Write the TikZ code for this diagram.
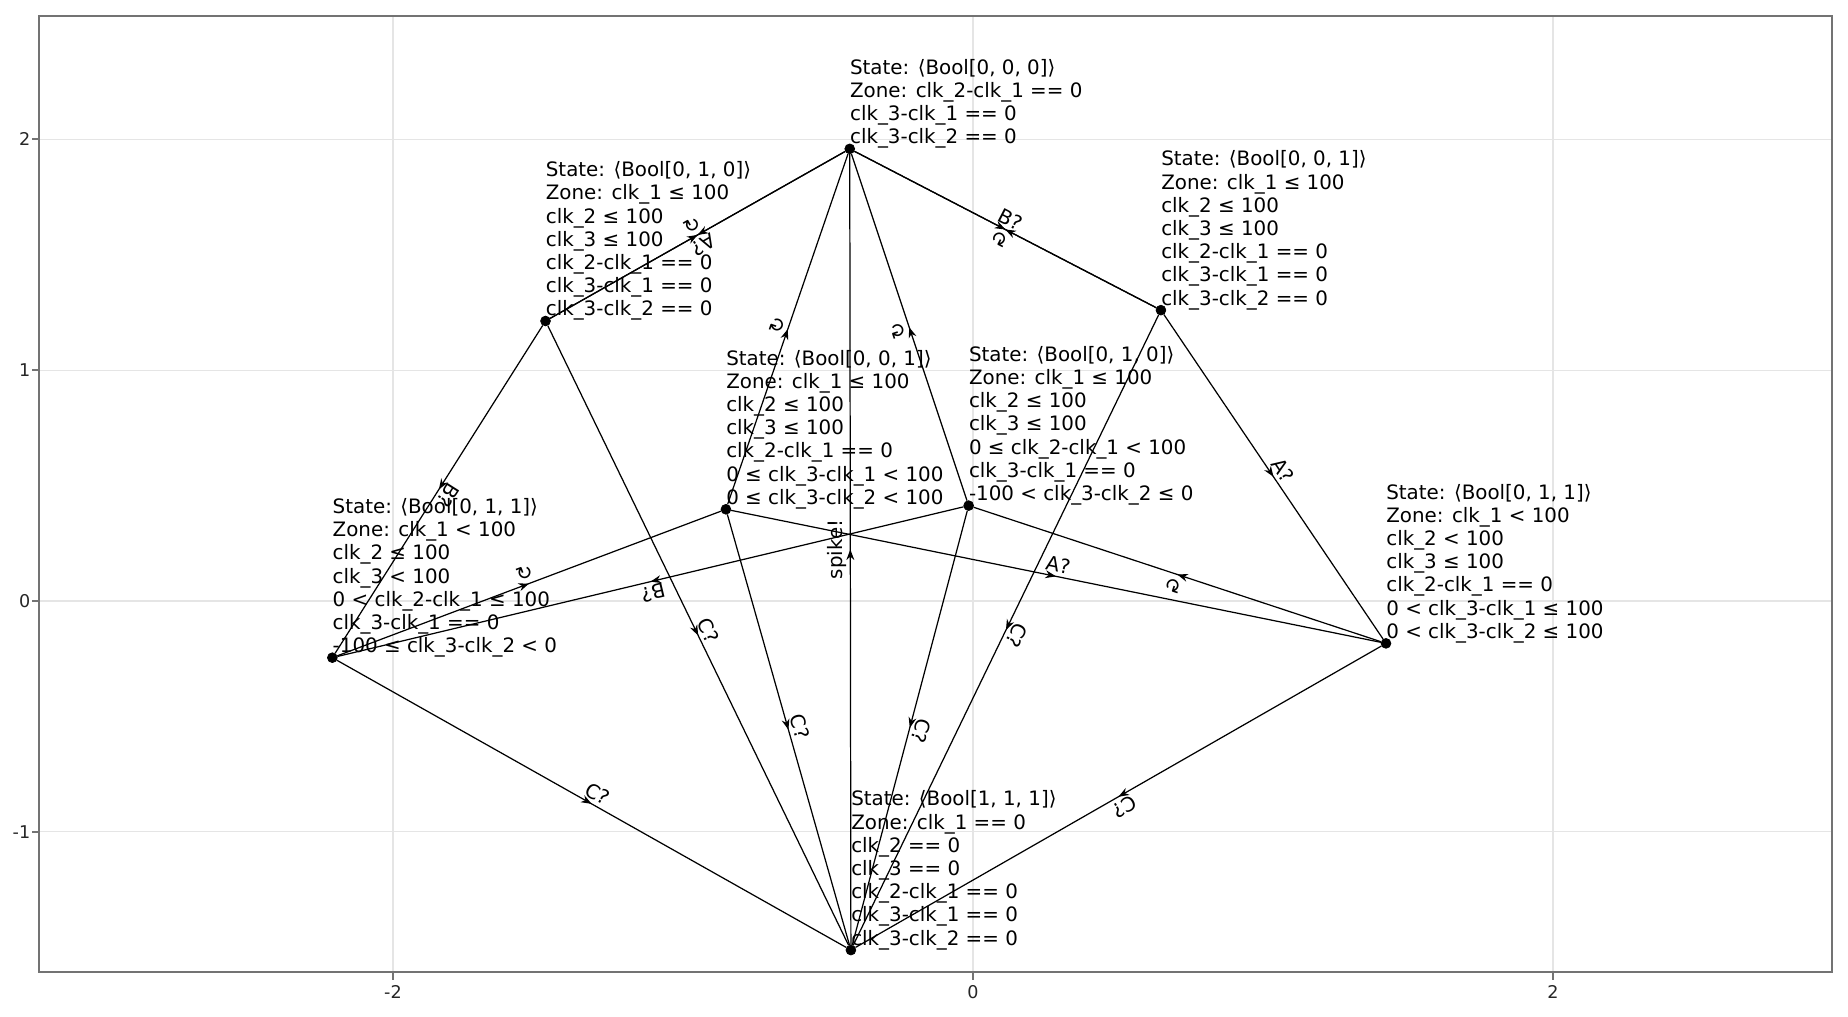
\documentclass[tikz,border=0pt]{standalone}
\usepackage{fontspec}
\setmainfont{DejaVu Sans}
\usetikzlibrary{arrows.meta,decorations.markings}
\begin{document}
\begin{tikzpicture}[x=5.8cm, y=4.615cm,
    state/.style={draw, circle, fill=black, inner sep=0pt, minimum size=5.6pt},
    zone/.style={anchor=south west, inner sep=0pt, align=left, font=\fontsize{11.3}{13.2}\selectfont},
    trans/.style={line width=0.7pt, postaction={decorate, decoration={markings, mark=at position 0.5 with {\arrow{Stealth[length=6pt, width=4.5pt]}}}}},
    act/.style={anchor=south, sloped, allow upside down, inner sep=2pt, font=\fontsize{11.3}{13.2}\selectfont},
    grid line/.style={black!10, line width=0.7pt},
    axis frame/.style={black!55, line width=1.1pt},
    ticklabel/.style={inner sep=0pt, text=black!85, font=\fontsize{10}{12}\selectfont}]
    \useasboundingbox (-3.355,-1.799) rectangle (3.017,2.604);

    \foreach \gx in {-2,0,2} \draw[grid line] (\gx,-1.610) -- (\gx,2.534);
    \foreach \gy in {-1,0,1,2} \draw[grid line] (-3.220,\gy) -- (2.962,\gy);
    \draw[axis frame] (-3.220,-1.610) rectangle (2.962,2.534);
    \foreach \gx/\nm in {-2/a,0/b,2/c} {
        \draw[axis frame] (\gx,-1.610) -- ++(0,-0.15cm);
        \node[ticklabel, anchor=north] (xt\nm) at ([yshift=-0.26cm]\gx,-1.610) {\gx};
    }
    \foreach \gy/\nm in {-1/a,0/b,1/c,2/d} {
        \draw[axis frame] (-3.220,\gy) -- ++(-0.15cm,0);
        \node[ticklabel, anchor=east] (yt\nm) at ([xshift=-0.172cm]-3.220,\gy) {\gy};
    }

    \node[state] (s000) at (-0.425, 1.959) {};
    \node[state] (s010) at (-1.474, 1.213) {};
    \node[state] (s001) at (0.648, 1.260) {};
    \node[state] (s001m) at (-0.852, 0.397) {};
    \node[state] (s010m) at (-0.015, 0.413) {};
    \node[state] (s011) at (-2.209, -0.246) {};
    \node[state] (s011m) at (1.424, -0.184) {};
    \node[state] (s111) at (-0.421, -1.513) {};

    \node[zone] (l000) at (s000) {State: ⟨Bool[0, 0, 0]⟩\\Zone: clk\_2-clk\_1 == 0\\clk\_3-clk\_1 == 0\\clk\_3-clk\_2 == 0};
    \node[zone] (l010) at (s010) {State: ⟨Bool[0, 1, 0]⟩\\Zone: clk\_1 ≤ 100\\clk\_2 ≤ 100\\clk\_3 ≤ 100\\clk\_2-clk\_1 == 0\\clk\_3-clk\_1 == 0\\clk\_3-clk\_2 == 0};
    \node[zone] (l001) at (s001) {State: ⟨Bool[0, 0, 1]⟩\\Zone: clk\_1 ≤ 100\\clk\_2 ≤ 100\\clk\_3 ≤ 100\\clk\_2-clk\_1 == 0\\clk\_3-clk\_1 == 0\\clk\_3-clk\_2 == 0};
    \node[zone] (l001m) at (s001m) {State: ⟨Bool[0, 0, 1]⟩\\Zone: clk\_1 ≤ 100\\clk\_2 ≤ 100\\clk\_3 ≤ 100\\clk\_2-clk\_1 == 0\\0 ≤ clk\_3-clk\_1 < 100\\0 ≤ clk\_3-clk\_2 < 100};
    \node[zone] (l010m) at (s010m) {State: ⟨Bool[0, 1, 0]⟩\\Zone: clk\_1 ≤ 100\\clk\_2 ≤ 100\\clk\_3 ≤ 100\\0 ≤ clk\_2-clk\_1 < 100\\clk\_3-clk\_1 == 0\\-100 < clk\_3-clk\_2 ≤ 0};
    \node[zone] (l011) at (s011) {State: ⟨Bool[0, 1, 1]⟩\\Zone: clk\_1 < 100\\clk\_2 ≤ 100\\clk\_3 < 100\\0 < clk\_2-clk\_1 ≤ 100\\clk\_3-clk\_1 == 0\\-100 ≤ clk\_3-clk\_2 < 0};
    \node[zone] (l011m) at (s011m) {State: ⟨Bool[0, 1, 1]⟩\\Zone: clk\_1 < 100\\clk\_2 < 100\\clk\_3 ≤ 100\\clk\_2-clk\_1 == 0\\0 < clk\_3-clk\_1 ≤ 100\\0 < clk\_3-clk\_2 ≤ 100};
    \node[zone] (l111) at (s111) {State: ⟨Bool[1, 1, 1]⟩\\Zone: clk\_1 == 0\\clk\_2 == 0\\clk\_3 == 0\\clk\_2-clk\_1 == 0\\clk\_3-clk\_1 == 0\\clk\_3-clk\_2 == 0};

    \draw [trans] (s000) -- node[act] {A?} (s010);
    \draw [trans] (s010) -- node[act] {↻} (s000);
    \draw [trans] (s000) -- node[act] {B?} (s001);
    \draw [trans] (s001) -- node[act] {↻} (s000);
    \draw [trans] (s001m) -- node[act] {↻} (s000);
    \draw [trans] (s010m) -- node[act] {↻} (s000);
    \draw [trans] (s111) -- node[act] {spike!} (s000);
    \draw [trans] (s010) -- node[act] {B?} (s011);
    \draw [trans] (s010) -- node[act] {C?} (s111);
    \draw [trans] (s001) -- node[act] {A?} (s011m);
    \draw [trans] (s001) -- node[act] {C?} (s111);
    \draw [trans] (s001m) -- node[act] {C?} (s111);
    \draw [trans] (s010m) -- node[act] {C?} (s111);
    \draw [trans] (s011) -- node[act] {C?} (s111);
    \draw [trans] (s011m) -- node[act] {C?} (s111);
    \draw [trans] (s011) -- node[act] {↻} (s001m);
    \draw [trans] (s010m) -- node[act] {B?} (s011);
    \draw [trans] (s001m) -- node[act] {A?} (s011m);
    \draw [trans] (s011m) -- node[act] {↻} (s010m);
\end{tikzpicture}
\end{document}
